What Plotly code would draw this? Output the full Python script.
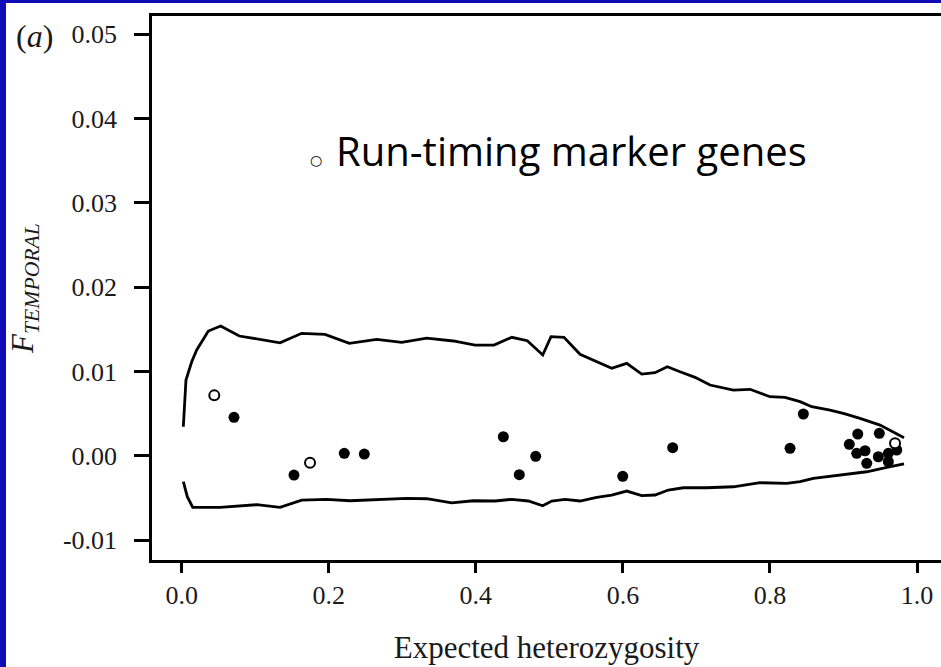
import plotly.graph_objects as go

# ---- data ----
upper_x = [0.0022, 0.0058, 0.0136, 0.0204, 0.0362, 0.053, 0.0783, 0.1337, 0.1632, 0.1949,
           0.2279, 0.2652, 0.2992, 0.3332, 0.3694, 0.3989, 0.4247, 0.4488, 0.47, 0.491,
           0.5022, 0.5199, 0.5417, 0.5848, 0.6052, 0.6256, 0.6437, 0.6604, 0.6777, 0.6981,
           0.7185, 0.7502, 0.7729, 0.8, 0.8205, 0.8409, 0.8568, 0.8817, 0.8998, 0.9225,
           0.9497, 0.9678, 0.9823]
upper_y = [0.00344, 0.00898, 0.01115, 0.01254, 0.01479, 0.01539, 0.0142, 0.0134, 0.01452, 0.0144,
           0.01333, 0.01381, 0.01345, 0.01396, 0.01361, 0.01313, 0.01313, 0.01405, 0.01364, 0.01195,
           0.01412, 0.01405, 0.01203, 0.01037, 0.01096, 0.00969, 0.00985, 0.01056, 0.00996, 0.0093,
           0.00839, 0.00779, 0.00788, 0.007, 0.00693, 0.00641, 0.00581, 0.00542, 0.00503, 0.00444,
           0.00364, 0.00285, 0.00214]

lower_x = [0.0022, 0.0076, 0.015, 0.0521, 0.102, 0.1337, 0.1632, 0.1972, 0.2289, 0.2742,
           0.306, 0.3332, 0.3672, 0.3966, 0.4261, 0.4488, 0.4714, 0.491, 0.5032, 0.5213,
           0.5417, 0.5644, 0.5848, 0.6052, 0.6256, 0.6437, 0.6618, 0.6822, 0.714, 0.7502,
           0.7865, 0.8228, 0.8409, 0.859, 0.8953, 0.9316, 0.9588, 0.9823]
lower_y = [-0.00308, -0.00486, -0.00612, -0.00612, -0.00581, -0.00612, -0.00526, -0.00517, -0.00534, -0.00517,
           -0.00505, -0.0051, -0.00558, -0.00534, -0.00537, -0.00517, -0.00537, -0.00593, -0.00537, -0.00517,
           -0.00537, -0.00493, -0.00466, -0.00419, -0.00474, -0.00466, -0.00407, -0.0038, -0.0038, -0.00368,
           -0.0032, -0.00327, -0.00308, -0.00268, -0.00229, -0.0019, -0.00138, -0.00098]

loci_x = [0.0711, 0.1527, 0.2211, 0.2483, 0.4374, 0.4591, 0.4814, 0.5998, 0.6677, 0.8273,
          0.8454, 0.9194, 0.9487, 0.9079, 0.9293, 0.918, 0.9474, 0.961, 0.9724, 0.9316, 0.961]
loci_y = [0.00456, -0.00229, 0.00028, 0.0002, 0.00225, -0.00225, -0.00007, -0.00244, 0.00095, 0.00088,
          0.00495, 0.00257, 0.00266, 0.00135, 0.00059, 0.00028, -0.00012, 0.00028, 0.00068, -0.0009, -0.00071]

runtiming_x = [0.0443, 0.1745, 0.9701]
runtiming_y = [0.00716, -0.00083, 0.00147]

x_ticks = [0.0, 0.2, 0.4, 0.6, 0.8, 1.0]
x_ticktext = ["0.0", "0.2", "0.4", "0.6", "0.8", "1.0"]
y_ticks = [-0.01, 0.0, 0.01, 0.02, 0.03, 0.04, 0.05]
y_ticktext = ["-0.01", "0.00", "0.01", "0.02", "0.03", "0.04", "0.05"]

# ---- layout geometry ----
W, H = 941, 667
ML, MT, MR, MB = 152, 16, 0, 107
PW, PH = W - ML - MR, H - MT - MB


def px_x(p):
    return (p - ML) / PW


def px_y(p):
    return (H - MB - p) / PH


SERIF = "Liberation Serif"
BLUE = "#120cb8"
INK = "#1a1a1a"

fig = go.Figure()
for xs, ys in ((upper_x, upper_y), (lower_x, lower_y)):
    fig.add_trace(go.Scatter(x=xs, y=ys, mode="lines",
                             line=dict(color="black", width=2.8),
                             showlegend=False, hoverinfo="skip"))
fig.add_trace(go.Scatter(x=loci_x, y=loci_y, mode="markers",
                         marker=dict(color="black", size=11, line=dict(width=0)),
                         showlegend=False))
fig.add_trace(go.Scatter(x=runtiming_x, y=runtiming_y, mode="markers",
                         marker=dict(color="white", size=10, line=dict(color="black", width=2)),
                         showlegend=False))

fig.update_layout(
    width=W, height=H,
    margin=dict(l=ML, r=MR, t=MT, b=MB, pad=0),
    paper_bgcolor="white", plot_bgcolor="white",
    font=dict(family=SERIF, color=INK),
    xaxis=dict(range=[-0.0404, 1.0326], showgrid=False, zeroline=False,
               showline=True, mirror=True, linecolor="black", linewidth=2.5,
               ticks="outside", ticklen=10, tickwidth=2.5, tickcolor="black",
               tickvals=x_ticks, ticktext=x_ticktext,
               ticklabelstandoff=0,
               tickfont=dict(family=SERIF, size=26, color=INK),
               title=dict(text="Expected heterozygosity", standoff=28,
                          font=dict(family=SERIF, size=31, color=INK))),
    yaxis=dict(range=[-0.012368, 0.05216], showgrid=False, zeroline=False,
               showline=True, linecolor="black", linewidth=2.5,
               ticks="outside", ticklen=15, tickwidth=2.5, tickcolor="black",
               tickvals=y_ticks, ticktext=y_ticktext,
               ticklabelstandoff=12,
               tickfont=dict(family=SERIF, size=26, color=INK),
               title=dict(text="<i>F</i><sub><i>TEMPORAL</i></sub>", standoff=21,
                          font=dict(family=SERIF, size=31, color=INK))),
    shapes=[
        dict(type="rect", xref="paper", yref="paper", x0=px_x(0), x1=px_x(6),
             y0=px_y(H), y1=px_y(0), fillcolor=BLUE, line=dict(width=0), layer="above"),
        dict(type="rect", xref="paper", yref="paper", x0=px_x(0), x1=px_x(W),
             y0=px_y(3), y1=px_y(0), fillcolor=BLUE, line=dict(width=0), layer="above"),
    ],
    annotations=[
        dict(text="(<i>a</i>)", xref="paper", yref="paper", x=px_x(14), y=px_y(36),
             xanchor="left", yanchor="middle", showarrow=False,
             font=dict(family=SERIF, size=32, color=INK)),
        dict(text="○", xref="paper", yref="paper", x=px_x(316), y=px_y(160),
             xanchor="center", yanchor="middle", showarrow=False,
             font=dict(family="DejaVu Sans", size=14, color="black")),
        dict(text="Run-timing marker genes", xref="paper", yref="paper", x=px_x(334), y=px_y(150),
             xanchor="left", yanchor="middle", showarrow=False,
             font=dict(family="Open Sans", size=40, color="black")),
    ],
)

fig.write_html("out.html")
